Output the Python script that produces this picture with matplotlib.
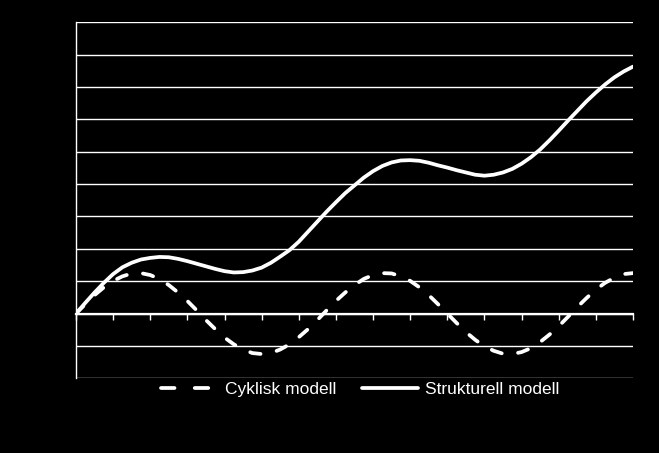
"""Cyclic vs structural model: a sine-like cycle and a rising structural curve."""
import matplotlib
matplotlib.use("Agg")
import matplotlib.pyplot as plt
from matplotlib.lines import Line2D
import numpy as np

# x positions (category axis, 15 intervals, quarter steps) and values
X = [i * 0.25 for i in range(61)]
CYKLISK = [0.0, 0.29, 0.57, 0.81, 1.01, 1.15, 1.24, 1.25, 1.19, 1.07, 0.88, 0.65,
           0.39, 0.10, -0.20, -0.48, -0.74, -0.95, -1.11, -1.22, -1.25, -1.22, -1.11,
           -0.95, -0.73, -0.48, -0.20, 0.10, 0.39, 0.65, 0.88, 1.07, 1.19, 1.25, 1.24,
           1.15, 1.01, 0.81, 0.57, 0.29, 0.0, -0.29, -0.57, -0.81, -1.01, -1.15, -1.24,
           -1.25, -1.19, -1.07, -0.88, -0.65, -0.39, -0.10, 0.20, 0.48, 0.74, 0.95, 1.11,
           1.22, 1.25]
STRUKTURELL = [0.0, 0.33, 0.65, 0.95, 1.22, 1.43, 1.57, 1.67, 1.72, 1.75, 1.74, 1.69,
               1.62, 1.54, 1.46, 1.38, 1.31, 1.27, 1.28, 1.33, 1.42, 1.57, 1.76, 1.96,
               2.22, 2.53, 2.84, 3.15, 3.44, 3.72, 3.96, 4.20, 4.40, 4.56, 4.67, 4.73,
               4.74, 4.72, 4.66, 4.58, 4.51, 4.43, 4.36, 4.29, 4.26, 4.29, 4.36, 4.47,
               4.63, 4.83, 5.07, 5.35, 5.65, 5.96, 6.26, 6.56, 6.83, 7.08, 7.30, 7.48,
               7.63]
LABELS = ["Cyklisk modell", "Strukturell modell"]

FG = "white"
BG = "black"
LW = 2.7


def main():
    plt.rcParams["font.family"] = ["Liberation Sans", "DejaVu Sans"]
    fig = plt.figure(figsize=(6.59, 4.53), dpi=100, facecolor=BG)
    ax = fig.add_axes([0.1153, 0.1649, 0.8452, 0.7859], facecolor=BG)

    ax.plot(X, CYKLISK, color=FG, lw=LW, linestyle=(0, (2.8, 4.4)),
            dash_capstyle="round", zorder=3)
    ax.plot(X, STRUKTURELL, color=FG, lw=LW, solid_capstyle="round",
            solid_joinstyle="round", zorder=3)

    ax.set_xlim(0, 15)
    ax.set_ylim(-2, 9)
    ax.set_yticks(np.arange(-2, 10, 1))
    ax.set_xticks(np.arange(0, 16, 1))
    ax.grid(axis="y", color=FG, lw=1.0)
    ax.set_axisbelow(True)

    for side in ("top", "right"):
        ax.spines[side].set_visible(False)
    ax.spines["left"].set_color(FG)
    ax.spines["left"].set_linewidth(1.0)
    ax.spines["bottom"].set_position(("data", 0))
    ax.spines["bottom"].set_color(FG)
    ax.spines["bottom"].set_linewidth(1.6)
    ax.tick_params(axis="x", colors=FG, direction="out", length=4, width=1.0,
                   labelbottom=False)
    ax.tick_params(axis="y", length=0, labelleft=False)

    # legend handles drawn separately: Excel uses longer dashes in the key
    handles = [
        Line2D([], [], color=FG, lw=LW, linestyle=(0, (3.6, 5.4)), dash_capstyle="round"),
        Line2D([], [], color=FG, lw=LW, solid_capstyle="round"),
    ]
    leg = fig.legend(handles, LABELS, loc="center", bbox_to_anchor=(0.547, 0.141),
                     ncol=2, frameon=False, fontsize=12.5, handlelength=3.2,
                     handletextpad=0.45, columnspacing=1.5)
    for t in leg.get_texts():
        t.set_color(FG)

    fig.savefig("out.png", dpi=100, facecolor=BG)
    plt.close(fig)


if __name__ == "__main__":
    main()
